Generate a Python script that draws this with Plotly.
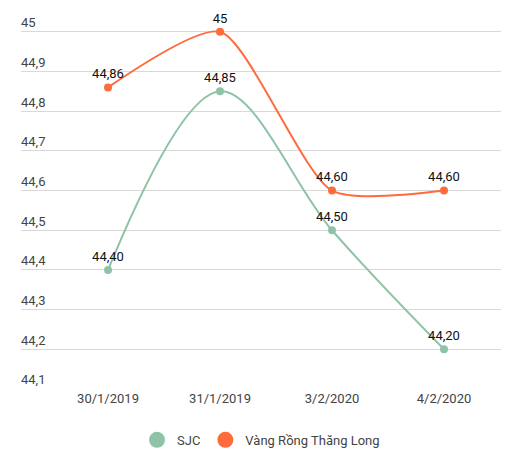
import plotly.graph_objects as go

# data
dates = ["30/1/2019", "31/1/2019", "3/2/2020", "4/2/2020"]
sjc = [44.40, 44.85, 44.50, 44.20]
sjc_labels = ["44,40", "44,85", "44,50", "44,20"]
vrtl = [44.86, 45.0, 44.60, 44.60]
vrtl_labels = ["44,86", "45", "44,60", "44,60"]
y_ticks = [44.1, 44.2, 44.3, 44.4, 44.5, 44.6, 44.7, 44.8, 44.9, 45.0]

green = "#8fc3a7"
orange = "#ff6b3d"

fig = go.Figure()
for name, vals, labels, col, sm in [("SJC", sjc, sjc_labels, green, 1.0),
                                    ("Vàng Rồng Thăng Long", vrtl, vrtl_labels, orange, 0.65)]:
    fig.add_trace(go.Scatter(
        x=dates, y=vals, name=name, mode="lines+markers+text",
        line=dict(color=col, width=2, shape="spline", smoothing=sm),
        marker=dict(color=col, size=8),
        text=labels, textposition="top center",
        textfont=dict(color="#111", size=13),
        cliponaxis=False, showlegend=False,
    ))
    # legend entry: plain big dot like the original
    fig.add_trace(go.Scatter(
        x=[None], y=[None], name=name, mode="markers",
        marker=dict(color=col, size=16), showlegend=True,
    ))

# page body adds an 8px margin, so the figure is sized to fit the window
fig.update_layout(
    width=508, height=451,
    margin=dict(l=13, r=15, t=4, b=70, autoexpand=False),
    plot_bgcolor="white", paper_bgcolor="white",
    separators=",.",
    font=dict(family="Roboto", size=13, color="#444"),
    legend=dict(orientation="h", x=0.5, xanchor="center", y=-0.135, yanchor="middle",
                font=dict(size=13, color="#444"), itemsizing="trace"),
    xaxis=dict(
        type="category", range=[-0.777, 3.509], automargin=False,
        showgrid=False, showline=False, zeroline=False,
        ticks="", tickfont=dict(size=13, color="#444"),
    ),
    yaxis=dict(
        range=[44.1, 45.05], tickvals=y_ticks, automargin=False,
        ticklabelposition="inside top", ticklabelstandoff=-3,
        showgrid=True, gridcolor="#d9d9d9", gridwidth=1,
        zeroline=False, showline=False, ticks="",
        tickfont=dict(size=13, color="#444"),
    ),
)

fig.write_html("out.html")
